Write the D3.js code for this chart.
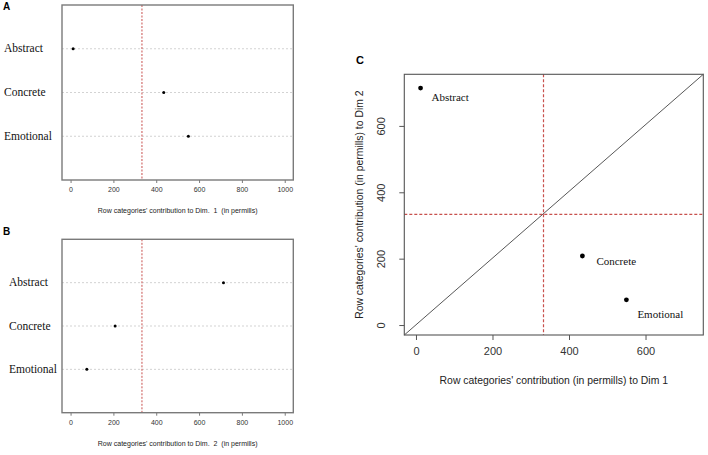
<!DOCTYPE html>
<html>
<head>
<meta charset="utf-8">
<script src="https://cdn.jsdelivr.net/npm/d3@7"></script>
<style>
  html, body { margin: 0; padding: 0; background: #fff; }
  svg { display: block; }
  text { white-space: pre; }
</style>
</head>
<body>
<div id="chart"></div>
<script>
// ---- data ----
const categories = ["Abstract", "Concrete", "Emotional"];
const dim1Contrib = [12, 435, 550];   // permills, Dim 1
const dim2Contrib = [714, 208, 76];   // permills, Dim 2
const expectedContrib = 1000 / 3;     // reference line
const ticksAB = [0, 200, 400, 600, 800, 1000];
const ticksC = [0, 200, 400, 600];
const titleA = "Row categories' contribution to Dim.  1  (in permills)";
const titleB = "Row categories' contribution to Dim.  2  (in permills)";
const titleCx = "Row categories' contribution (in permills) to Dim 1";
const titleCy = "Row categories' contribution (in permills) to Dim 2";

// ---- layout / style ----
const W = 708, H = 455;
const red = "#c8504d";
const sans = "Liberation Sans, Arial, sans-serif";
const serif = "Liberation Serif, Times New Roman, serif";

const svg = d3.select("#chart").append("svg")
  .attr("width", W).attr("height", H);
svg.append("rect").attr("width", W).attr("height", H).attr("fill", "#fff");

function dotPanel(cfg) {
  const g = svg.append("g");
  const x = d3.scaleLinear().domain([-40, 1040]).range([cfg.x0, cfg.x1]);
  const y = d3.scalePoint().domain(categories).range([cfg.y0, cfg.y1]).padding(1);

  // grid lines
  g.selectAll("line.grid").data(categories).join("line")
    .attr("class", "grid")
    .attr("x1", cfg.x0).attr("x2", cfg.x1)
    .attr("y1", d => y(d)).attr("y2", d => y(d))
    .attr("stroke", "#c8c8c8").attr("stroke-width", 0.8)
    .attr("stroke-dasharray", "2,2");

  // reference line
  g.append("line")
    .attr("x1", x(expectedContrib)).attr("x2", x(expectedContrib))
    .attr("y1", cfg.y0).attr("y2", cfg.y1)
    .attr("stroke", red).attr("stroke-width", 1).attr("stroke-dasharray", "2,1.5");

  // points
  g.selectAll("circle").data(cfg.values).join("circle")
    .attr("cx", d => x(d)).attr("cy", (d, i) => y(categories[i]))
    .attr("r", 1.5).attr("fill", "#000");

  // box
  g.append("rect")
    .attr("x", cfg.x0).attr("y", cfg.y0)
    .attr("width", cfg.x1 - cfg.x0).attr("height", cfg.y1 - cfg.y0)
    .attr("fill", "none").attr("stroke", "#7a7a7a").attr("stroke-width", 1.4);

  // x axis
  const ax = g.append("g").attr("transform", `translate(0,${cfg.y1})`)
    .call(d3.axisBottom(x).tickValues(ticksAB).tickSize(3).tickPadding(4).tickFormat(d3.format("d")));
  ax.select(".domain").remove();
  ax.selectAll(".tick line").attr("stroke", "#7a7a7a");
  ax.selectAll(".tick text").attr("font-family", sans).attr("font-size", 7).attr("fill", "#333");

  g.append("text")
    .attr("x", (cfg.x0 + cfg.x1) / 2).attr("y", cfg.y1 + 33)
    .attr("text-anchor", "middle")
    .attr("font-family", sans).attr("font-size", 7).attr("fill", "#222")
    .text(cfg.title);

  // row labels
  g.selectAll("text.row").data(categories).join("text")
    .attr("class", "row")
    .attr("x", cfg.labelX).attr("y", d => y(d) + 3.5)
    .attr("font-family", serif).attr("font-size", 11.5).attr("fill", "#111")
    .text(d => d);

  // panel letter
  g.append("text")
    .attr("x", 3).attr("y", cfg.letterY)
    .attr("font-family", sans).attr("font-weight", "bold").attr("font-size", 10)
    .text(cfg.letter);
}

dotPanel({ x0: 62, x1: 293.3, y0: 5, y1: 180, values: dim1Contrib, title: titleA,
           labelX: 4, letter: "A", letterY: 10 });
dotPanel({ x0: 62, x1: 293.3, y0: 239.3, y1: 412.7, values: dim2Contrib, title: titleB,
           labelX: 9, letter: "B", letterY: 235 });

// ---- panel C ----
(function () {
  const x0 = 404.3, x1 = 703.3, y0 = 74.3, y1 = 335;
  const g = svg.append("g");
  const x = d3.scaleLinear().domain([-30.5, 751]).range([x0, x1]);
  const y = d3.scaleLinear().domain([-30, 755.5]).range([y1, y0]);

  // diagonal y = x
  g.append("line")
    .attr("x1", x0).attr("y1", y1).attr("x2", x1).attr("y2", y0)
    .attr("stroke", "#444").attr("stroke-width", 0.9);

  // reference lines
  g.append("line")
    .attr("x1", x(expectedContrib)).attr("x2", x(expectedContrib))
    .attr("y1", y0).attr("y2", y1)
    .attr("stroke", red).attr("stroke-width", 1.2).attr("stroke-dasharray", "3,2");
  g.append("line")
    .attr("x1", x0).attr("x2", x1)
    .attr("y1", y(expectedContrib)).attr("y2", y(expectedContrib))
    .attr("stroke", red).attr("stroke-width", 1.2).attr("stroke-dasharray", "3,2");

  // points
  g.selectAll("circle").data(categories).join("circle")
    .attr("cx", (d, i) => x(dim1Contrib[i]))
    .attr("cy", (d, i) => y(dim2Contrib[i]))
    .attr("r", 2.4).attr("fill", "#000");

  // labels
  const labelOffsets = { Abstract: [11, 13], Concrete: [14, 8.5], Emotional: [11, 18] };
  g.selectAll("text.pl").data(categories).join("text")
    .attr("class", "pl")
    .attr("x", (d, i) => x(dim1Contrib[i]) + labelOffsets[d][0])
    .attr("y", (d, i) => y(dim2Contrib[i]) + labelOffsets[d][1])
    .attr("font-family", serif).attr("font-size", 11).attr("fill", "#111")
    .text(d => d);

  // box
  g.append("rect")
    .attr("x", x0).attr("y", y0).attr("width", x1 - x0).attr("height", y1 - y0)
    .attr("fill", "none").attr("stroke", "#555").attr("stroke-width", 1.1);

  // x axis
  const ax = g.append("g").attr("transform", `translate(0,${y1})`)
    .call(d3.axisBottom(x).tickValues(ticksC).tickSize(5).tickPadding(7).tickFormat(d3.format("d")));
  ax.select(".domain").remove();
  ax.selectAll(".tick line").attr("stroke", "#555");
  ax.selectAll(".tick text").attr("font-family", sans).attr("font-size", 11).attr("fill", "#333");

  // y axis
  const ay = g.append("g").attr("transform", `translate(${x0},0)`)
    .call(d3.axisLeft(y).tickValues(ticksC).tickSize(5).tickFormat(d3.format("d")));
  ay.select(".domain").remove();
  ay.selectAll(".tick line").attr("stroke", "#555");
  ay.selectAll(".tick text")
    .attr("font-family", sans).attr("font-size", 11).attr("fill", "#333")
    .attr("text-anchor", "middle").attr("dy", null).attr("x", null)
    .attr("transform", "translate(-19,0) rotate(-90)");

  // titles
  g.append("text")
    .attr("x", (x0 + x1) / 2).attr("y", 384)
    .attr("text-anchor", "middle")
    .attr("font-family", sans).attr("font-size", 10.4).attr("fill", "#222")
    .text(titleCx);
  g.append("text")
    .attr("transform", `translate(363,${(y0 + y1) / 2}) rotate(-90)`)
    .attr("text-anchor", "middle")
    .attr("font-family", sans).attr("font-size", 10.4).attr("fill", "#222")
    .text(titleCy);

  g.append("text")
    .attr("x", 356).attr("y", 64)
    .attr("font-family", sans).attr("font-weight", "bold").attr("font-size", 11)
    .text("C");
})();
</script>
</body>
</html>
